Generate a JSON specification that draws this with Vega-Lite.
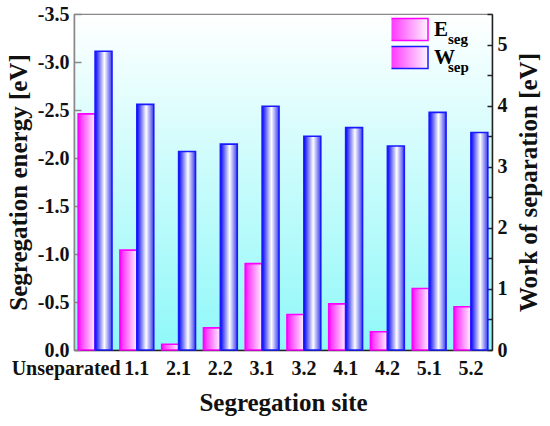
{
  "$schema": "https://vega.github.io/schema/vega-lite/v6.json",
  "width": 418,
  "height": 336,
  "autosize": {"type": "none"},
  "padding": {"left": 74, "top": 14, "right": 58, "bottom": 76},
  "background": "white",
  "view": {
    "fill": {"gradient": "linear", "x1": 0, "y1": 0, "x2": 0, "y2": 1,
      "stops": [{"offset": 0, "color": "#ffffff"}, {"offset": 1, "color": "#8ff8f8"}]},
    "stroke": "#888888",
    "strokeWidth": 1.2
  },
  "data": {
    "values": [
      {"site": "Unseparated", "series": "Eseg", "sub": "seg", "value": -2.46},
      {"site": "1.1", "series": "Eseg", "sub": "seg", "value": -1.04},
      {"site": "2.1", "series": "Eseg", "sub": "seg", "value": -0.06},
      {"site": "2.2", "series": "Eseg", "sub": "seg", "value": -0.23},
      {"site": "3.1", "series": "Eseg", "sub": "seg", "value": -0.90},
      {"site": "3.2", "series": "Eseg", "sub": "seg", "value": -0.37},
      {"site": "4.1", "series": "Eseg", "sub": "seg", "value": -0.48},
      {"site": "4.2", "series": "Eseg", "sub": "seg", "value": -0.19},
      {"site": "5.1", "series": "Eseg", "sub": "seg", "value": -0.64},
      {"site": "5.2", "series": "Eseg", "sub": "seg", "value": -0.45},
      {"site": "Unseparated", "series": "Wsep", "sub": "sep", "value": 4.89},
      {"site": "1.1", "series": "Wsep", "sub": "sep", "value": 4.02},
      {"site": "2.1", "series": "Wsep", "sub": "sep", "value": 3.25},
      {"site": "2.2", "series": "Wsep", "sub": "sep", "value": 3.37},
      {"site": "3.1", "series": "Wsep", "sub": "sep", "value": 3.99},
      {"site": "3.2", "series": "Wsep", "sub": "sep", "value": 3.50},
      {"site": "4.1", "series": "Wsep", "sub": "sep", "value": 3.64},
      {"site": "4.2", "series": "Wsep", "sub": "sep", "value": 3.34},
      {"site": "5.1", "series": "Wsep", "sub": "sep", "value": 3.89},
      {"site": "5.2", "series": "Wsep", "sub": "sep", "value": 3.56}
    ]
  },
  "encoding": {
    "x": {
      "field": "site",
      "type": "nominal",
      "sort": null,
      "scale": {"paddingInner": 0.19, "paddingOuter": 0.1},
      "title": "Segregation site",
      "axis": {
        "labelAngle": 0,
        "ticks": false,
        "labelPadding": 8,
        "labelOverlap": false,
        "labelOffset": {"condition": {"test": "datum.value == 'Unseparated'", "value": -29}, "value": 0},
        "domainColor": "#222222",
        "domainWidth": 1.5,
        "titlePadding": 12
      }
    },
    "xOffset": {
      "field": "series",
      "type": "nominal",
      "scale": {"domain": ["Eseg", "Wsep"], "paddingInner": 0, "paddingOuter": 0}
    },
    "stroke": {
      "field": "series",
      "type": "nominal",
      "scale": {"domain": ["Eseg", "Wsep"], "range": ["#ff00ff", "#1a1aff"]},
      "legend": {
        "title": null,
        "orient": "none",
        "legendX": 317.5,
        "legendY": 1.5,
        "symbolType": "M-1.536,-0.786H1.536V0.786H-1.536Z",
        "symbolSize": 784,
        "symbolStrokeWidth": 1.5,
        "clipHeight": 28,
        "rowPadding": 0,
        "labelFont": "Liberation Serif",
        "labelFontWeight": "bold",
        "labelFontSize": 21,
        "labelOffset": 12.5,
        "labelExpr": "datum.value == 'Eseg' ? 'E' : 'W'",
        "encode": {
          "symbols": {"update": {
            "fill": [
              {"test": "datum.value == 'Eseg'", "value": {"gradient": "linear", "x1": 0, "y1": 0, "x2": 1, "y2": 0, "stops": [{"offset": 0, "color": "#ff00ff"}, {"offset": 0.55, "color": "#ffffff"}, {"offset": 1, "color": "#ff66ff"}]}},
              {"value": {"gradient": "linear", "x1": 0, "y1": 0, "x2": 1, "y2": 0, "stops": [{"offset": 0, "color": "#0000ff"}, {"offset": 0.55, "color": "#ffffff"}, {"offset": 1, "color": "#3333cc"}]}}
            ],
            "opacity": {"value": 1}
          }},
          "labels": {"update": {"fill": {"signal": "datum.value == 'Eseg' ? '#ff40e0' : '#2a2aee'"}}}
        }
      }
    },
    "opacity": {
      "field": "sub",
      "type": "nominal",
      "scale": {"domain": ["seg", "sep"], "range": [1, 1]},
      "legend": {
        "title": null,
        "orient": "none",
        "legendX": 359,
        "legendY": 17.5,
        "symbolSize": 0,
        "symbolOpacity": 0,
        "symbolStrokeWidth": 0,
        "labelOffset": 0,
        "rowPadding": 12,
        "labelFont": "Liberation Serif",
        "labelFontWeight": "bold",
        "labelFontSize": 15,
        "encode": {
          "labels": {"update": {
            "fill": {"signal": "datum.value == 'seg' ? '#ff40e0' : '#2a2aee'"},
            "dx": {"signal": "datum.value == 'seg' ? 0 : 6"}
          }}
        }
      }
    }
  },
  "layer": [
    {
      "transform": [{"filter": "datum.series == 'Eseg'"}],
      "mark": {
        "type": "bar",
        "strokeWidth": 1.6,
        "fill": {"gradient": "linear", "x1": 0, "y1": 0, "x2": 1, "y2": 0,
          "stops": [{"offset": 0, "color": "#ff00ff"}, {"offset": 0.2, "color": "#ff44ff"}, {"offset": 1, "color": "#fff4ff"}]}
      },
      "encoding": {
        "y": {
          "field": "value",
          "type": "quantitative",
          "scale": {"domain": [-3.5, 0], "reverse": true, "nice": false},
          "title": "Segregation energy [eV]",
          "axis": {
            "orient": "left",
            "values": [0, -0.5, -1, -1.5, -2, -2.5, -3, -3.5],
            "labelExpr": "replace(format(datum.value, '.1f'), '\u2212', '-')",
            "tickSize": -7,
            "labelPadding": 12,
            "grid": false,
            "domainColor": "#888888",
            "domainWidth": 1.5,
            "tickColor": "#888888",
            "tickWidth": 1.5,
            "titlePadding": 6
          }
        }
      }
    },
    {
      "transform": [{"filter": "datum.series == 'Wsep'"}],
      "mark": {
        "type": "bar",
        "strokeWidth": 1.6,
        "fill": {"gradient": "linear", "x1": 0, "y1": 0, "x2": 1, "y2": 0,
          "stops": [{"offset": 0, "color": "#0000ff"}, {"offset": 0.55, "color": "#ffffff"}, {"offset": 1, "color": "#3a3aee"}]}
      },
      "encoding": {
        "y": {
          "field": "value",
          "type": "quantitative",
          "scale": {"domain": [0, 5.5], "nice": false},
          "title": "Work of separation [eV]",
          "axis": {
            "orient": "right",
            "values": [0, 0.5, 1, 1.5, 2, 2.5, 3, 3.5, 4, 4.5, 5, 5.5],
            "labelExpr": "datum.value % 1 == 0 ? format(datum.value, 'd') : ''",
            "tickSize": -5,
            "labelPadding": 10,
            "grid": false,
            "domainColor": "#222222",
            "domainWidth": 1.5,
            "tickColor": "#222222",
            "tickWidth": 1.5,
            "titleAngle": 270,
            "titlePadding": 34
          }
        }
      }
    }
  ],
  "resolve": {"scale": {"y": "independent"}},
  "config": {
    "font": "Liberation Serif",
    "axis": {
      "labelFont": "Liberation Serif",
      "labelFontWeight": "bold",
      "labelFontSize": 20,
      "labelColor": "#111111",
      "titleFont": "Liberation Serif",
      "titleFontWeight": "bold",
      "titleFontSize": 25,
      "titleColor": "#111111"
    }
  }
}
